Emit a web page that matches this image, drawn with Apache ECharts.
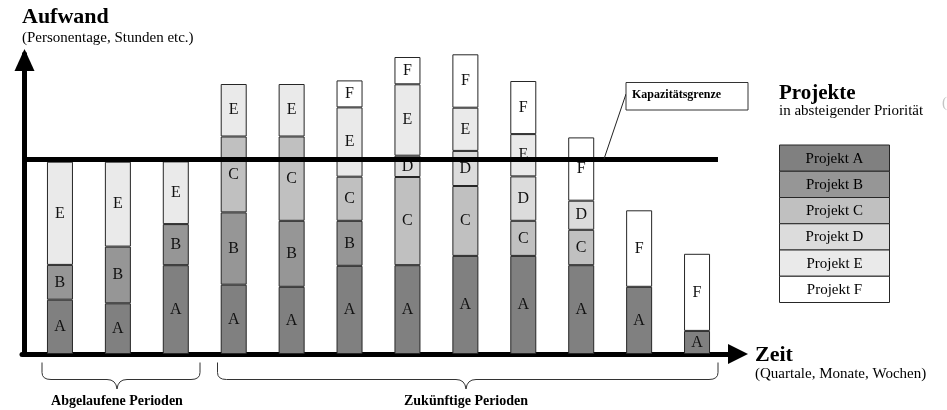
<!DOCTYPE html>
<html>
<head>
<meta charset="utf-8">
<script src="https://cdn.jsdelivr.net/npm/echarts@6/dist/echarts.min.js"></script>
<style>
  html, body { margin: 0; padding: 0; background: #ffffff; }
  #chart { width: 947px; height: 410px; }
</style>
</head>
<body>
<div id="chart"></div>
<script>
// Periods (quarters / months / weeks) – the first three are already past
const periods = ['1', '2', '3', '4', '5', '6', '7', '8', '9', '10', '11', '12'];
const pastCount = 3;

// Projects in descending priority
const projectKeys = ['A', 'B', 'C', 'D', 'E', 'F'];
const projectNames = ['Projekt A', 'Projekt B', 'Projekt C', 'Projekt D', 'Projekt E', 'Projekt F'];

// Effort per project and period (null = project not active in that period)
const effortA = [18.1, 16.9, 29.6, 23.1, 22.4, 29.4, 29.6, 32.7, 32.7, 29.6, 22.4, 7.7];
const effortB = [11.6, 18.9, 13.7, 24.1, 22.0, 15.0, null, null, null, null, null, null];
const effortC = [null, null, null, 25.3, 28.1, 14.7, 29.4, 23.3, 11.7, 11.8, null, null];
const effortD = [null, null, null, null, null, null, 7.1, 11.7, 14.8, 9.7, null, null];
const effortE = [34.4, 28.3, 20.9, 17.5, 17.5, 23.1, 23.8, 14.4, 14.1, null, null, null];
const effortF = [null, null, null, null, null, 9.0, 9.1, 17.8, 17.7, 21.1, 25.5, 25.7];

// Available capacity per period
const capacity = 65;

const effort = [effortA, effortB, effortC, effortD, effortE, effortF];
const shades = ['#808080', '#969696', '#c0c0c0', '#dcdcdc', '#eaeaea', '#ffffff'];

const SERIF = '"Liberation Serif", "Times New Roman", serif';
const OUTLINE = '#262626';

// Frame axis runs in period units (period 1 = 1); it starts a little left of
// the first bar and ends right of the last one, where the arrow sits.
const FRAME_MIN = 0.344;
const FRAME_MAX = 12.537;
const CAP_END = 12.364;

const chart = echarts.init(document.getElementById('chart'), null, { renderer: 'canvas' });

const barSeries = projectKeys.map((key, i) => ({
  type: 'bar',
  name: projectNames[i],
  xAxisIndex: 0,
  yAxisIndex: 0,
  stack: 'aufwand',
  barWidth: 26,
  data: effort[i],
  silent: true,
  itemStyle: { color: shades[i], borderColor: OUTLINE, borderWidth: 1 },
  label: {
    show: true,
    position: 'inside',
    formatter: key,
    fontFamily: SERIF,
    fontSize: 16,
    color: '#111111'
  },
  emphasis: { disabled: true }
}));

const frameAxisLine = (size, offset) => ({
  show: true,
  symbol: ['none', 'triangle'],
  symbolSize: size,
  symbolOffset: [0, offset],
  lineStyle: { color: '#000000', width: 5 }
});

chart.setOption({
  animation: false,
  backgroundColor: '#ffffff',
  grid: [
    { left: 31, right: 221, top: 54, bottom: 56, outerBoundsMode: 'none', containLabel: false },
    { left: 22, right: 219, top: 54, bottom: 56, outerBoundsMode: 'none', containLabel: false }
  ],
  xAxis: [
    {
      type: 'category', gridIndex: 0, data: periods, boundaryGap: true,
      axisLine: { show: false }, axisTick: { show: false }, axisLabel: { show: false },
      splitLine: { show: false }
    },
    {
      type: 'value', gridIndex: 1, min: FRAME_MIN, max: FRAME_MAX, offset: 2,
      axisLine: frameAxisLine([20, 20], 10),
      axisTick: { show: false }, axisLabel: { show: false }, splitLine: { show: false }
    }
  ],
  yAxis: [
    {
      type: 'value', gridIndex: 0, min: 0, max: 100,
      axisLine: { show: false }, axisTick: { show: false }, axisLabel: { show: false },
      splitLine: { show: false }
    },
    {
      type: 'value', gridIndex: 1, min: 0, max: 100, offset: -2.5,
      axisLine: frameAxisLine([20, 22], -6),
      axisTick: { show: false }, axisLabel: { show: false }, splitLine: { show: false }
    }
  ],
  series: barSeries.concat([{
    type: 'line',
    name: 'Kapazitätsgrenze',
    xAxisIndex: 1,
    yAxisIndex: 1,
    data: [],
    z: 5,
    silent: true,
    markLine: {
      silent: true,
      symbol: ['none', 'none'],
      label: { show: false },
      lineStyle: { color: '#000000', width: 5, type: 'solid' },
      data: [[{ coord: [FRAME_MIN, capacity] }, { coord: [CAP_END, capacity] }]]
    }
  }])
});

// ---- annotations: titles, capacity callout, priority table, period braces ----
function label(text, x, y, size, opts) {
  const o = opts || {};
  return {
    type: 'text',
    z: 10,
    silent: true,
    style: {
      text: text,
      x: x,
      y: y,
      fontFamily: SERIF,
      fontSize: size,
      fontWeight: o.bold ? 'bold' : 'normal',
      fill: o.color || '#000000',
      align: o.align || 'left',
      textAlign: o.align || 'left',
      verticalAlign: 'middle',
      textVerticalAlign: 'middle'
    }
  };
}

const braceStyle = { fill: 'none', stroke: '#333333', lineWidth: 1 };
function seg(x1, y1, x2, y2) {
  return { type: 'line', z: 10, silent: true, shape: { x1, y1, x2, y2 }, style: braceStyle };
}
function curve(x1, y1, cx, cy, x2, y2) {
  return {
    type: 'bezierCurve', z: 10, silent: true,
    shape: { x1, y1, x2, y2, cpx1: cx, cpy1: cy },
    style: braceStyle
  };
}
// curly brace opening upwards, tip pointing down at `mid`
function brace(x1, x2, mid, yTop, yMid, yTip) {
  return [
    seg(x1, yTop, x1, yMid - 7),
    curve(x1, yMid - 7, x1, yMid, x1 + 9, yMid),
    seg(x1 + 9, yMid, mid - 10, yMid),
    curve(mid - 10, yMid, mid - 1, yMid, mid, yTip),
    curve(mid, yTip, mid + 1, yMid, mid + 10, yMid),
    seg(mid + 10, yMid, x2 - 9, yMid),
    curve(x2 - 9, yMid, x2, yMid, x2, yMid - 7),
    seg(x2, yMid - 7, x2, yTop)
  ];
}

const capY = chart.convertToPixel({ xAxisIndex: 1, yAxisIndex: 1 }, [FRAME_MIN, capacity])[1];

const graphics = [
  label('Aufwand', 22, 17.5, 22, { bold: true }),
  label('(Personentage, Stunden etc.)', 22, 38.5, 15),
  label('Zeit', 755, 355.5, 22, { bold: true }),
  label('(Quartale, Monate, Wochen)', 755, 374.5, 15),
  label('Projekte', 779, 93.5, 21, { bold: true }),
  label('in absteigender Priorität', 779, 111, 15),
  // capacity callout
  {
    type: 'line', z: 10, silent: true,
    shape: { x1: 626, y1: 94, x2: 604, y2: capY },
    style: { stroke: '#222222', lineWidth: 1 }
  },
  {
    type: 'rect', z: 10, silent: true,
    shape: { x: 626, y: 82.5, width: 122, height: 27.5 },
    style: { fill: '#ffffff', stroke: '#333333', lineWidth: 1 }
  },
  label('Kapazitätsgrenze', 632, 94.5, 12, { bold: true }),
  // small clipped bracket at the right edge
  label('(', 942, 103, 15, { color: '#c4c4c4' })
];

// priority table
const tableX = 779.5, tableTop = 145, rowH = 26.25, tableW = 110;
projectNames.forEach((name, i) => {
  graphics.push({
    type: 'rect', z: 10, silent: true,
    shape: { x: tableX, y: tableTop + i * rowH, width: tableW, height: rowH },
    style: { fill: shades[i], stroke: OUTLINE, lineWidth: 1 }
  });
  graphics.push(label(name, tableX + tableW / 2, tableTop + i * rowH + rowH / 2 + 0.5, 15,
    { align: 'center', color: '#000000' }));
});

// braces below the time axis grouping past and future periods
const braces = [
  { x1: 42, x2: 200, mid: 117, text: 'Abgelaufene Perioden' },
  { x1: 217.5, x2: 718, mid: 466, text: 'Zukünftige Perioden' }
];
braces.forEach(b => {
  brace(b.x1, b.x2, b.mid, 362.5, 379.5, 389).forEach(el => graphics.push(el));
  graphics.push(label(b.text, b.mid, 401, 14, { bold: true, align: 'center' }));
});

chart.setOption({ graphic: graphics });
</script>
</body>
</html>
